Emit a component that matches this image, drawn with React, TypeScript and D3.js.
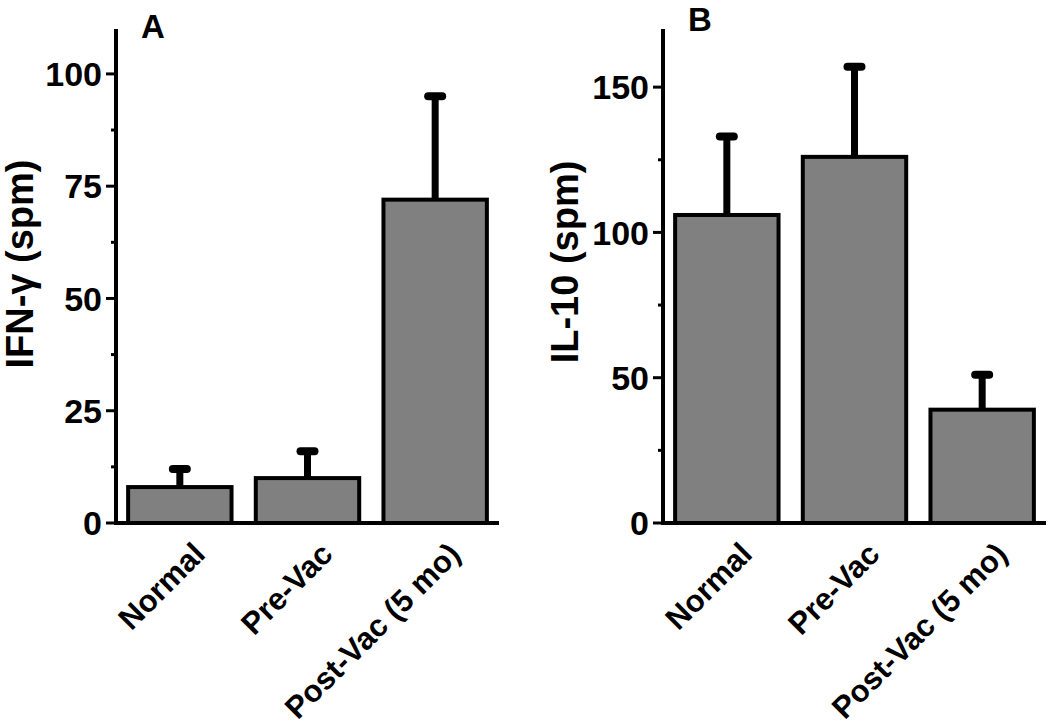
import React from "react";
import * as d3 from "d3";

const categories = ["Normal", "Pre-Vac", "Post-Vac (5 mo)"];
const ifnValues = [8, 10, 72];
const ifnErrors = [4, 6, 23];
const il10Values = [106, 126, 39];
const il10Errors = [27, 31, 12];
const ifnTicks = [0, 25, 50, 75, 100];
const il10Ticks = [0, 50, 100, 150];

const W = 1050;
const H = 726;
const FONT = "'Liberation Sans', Arial, sans-serif";

type PanelProps = {
  x0: number;
  x1: number;
  yMax: number;
  values: number[];
  errors: number[];
  ticks: number[];
  title: string;
  letter: string;
  letterY: number;
  titleX: number;
  titleY: number;
};

function Panel(p: PanelProps) {
  const yBase = 523;
  const yTop = 29;
  const y = d3.scaleLinear().domain([0, p.yMax]).range([yBase, yTop]);
  const x = d3
    .scaleBand<string>()
    .domain(categories)
    .range([p.x0, p.x1])
    .paddingInner(0.19)
    .paddingOuter(0.095);
  const step = p.ticks[1] - p.ticks[0];
  const minor = p.ticks
    .map((t) => t + step / 2)
    .filter((t) => t < p.yMax);
  return (
    <g>
      {categories.map((c, i) => {
        const bx = x(c)!;
        const bw = x.bandwidth();
        const cx = bx + bw / 2;
        const top = y(p.values[i]);
        const et = y(p.values[i] + p.errors[i]);
        return (
          <g key={c}>
            <line x1={cx} x2={cx} y1={top} y2={et} stroke="#000" strokeWidth={7} />
            <line
              x1={cx - 7}
              x2={cx + 7}
              y1={et}
              y2={et}
              stroke="#000"
              strokeWidth={8}
              strokeLinecap="round"
            />
            <rect
              x={bx}
              y={top}
              width={bw}
              height={yBase - top}
              fill="#808080"
              stroke="#000"
              strokeWidth={4}
            />
            <text
              transform={`translate(${cx + 27},${yBase + 33}) rotate(-45)`}
              textAnchor="end"
              fontFamily={FONT}
              fontWeight="bold"
              fontSize={31}
            >
              {c}
            </text>
          </g>
        );
      })}
      <line x1={p.x0} x2={p.x0} y1={yTop} y2={yBase + 2} stroke="#000" strokeWidth={4} />
      <line x1={p.x0 - 2} x2={p.x1} y1={yBase} y2={yBase} stroke="#000" strokeWidth={4} />
      {p.ticks.map((t) => (
        <g key={t}>
          <line x1={p.x0 - 10} x2={p.x0} y1={y(t)} y2={y(t)} stroke="#000" strokeWidth={3} />
          <text
            x={p.x0 - 14}
            y={y(t)}
            dy="0.36em"
            textAnchor="end"
            fontFamily={FONT}
            fontWeight="bold"
            fontSize={34}
          >
            {t}
          </text>
        </g>
      ))}
      {minor.map((t) => (
        <line key={t} x1={p.x0 - 5} x2={p.x0} y1={y(t)} y2={y(t)} stroke="#000" strokeWidth={3} />
      ))}
      <text
        transform={`translate(${p.titleX},${p.titleY}) rotate(-90)`}
        textAnchor="middle"
        fontFamily={FONT}
        fontWeight="bold"
        fontSize={38}
      >
        {p.title}
      </text>
      <text
        x={p.x0 + 37}
        y={p.letterY}
        textAnchor="middle"
        fontFamily={FONT}
        fontWeight="bold"
        fontSize={33}
      >
        {p.letter}
      </text>
    </g>
  );
}

export default function App() {
  return (
    <svg
      width={W}
      height={H}
      style={{ position: "absolute", left: 0, top: 0, background: "#fff" }}
    >
      <Panel
        x0={116}
        x1={499}
        yMax={110}
        values={ifnValues}
        errors={ifnErrors}
        ticks={ifnTicks}
        title="IFN-γ (spm)"
        letter="A"
        letterY={38}
        titleX={33}
        titleY={264}
      />
      <Panel
        x0={663}
        x1={1046}
        yMax={170}
        values={il10Values}
        errors={il10Errors}
        ticks={il10Ticks}
        title="IL-10 (spm)"
        letter="B"
        letterY={31}
        titleX={578}
        titleY={262}
      />
    </svg>
  );
}
